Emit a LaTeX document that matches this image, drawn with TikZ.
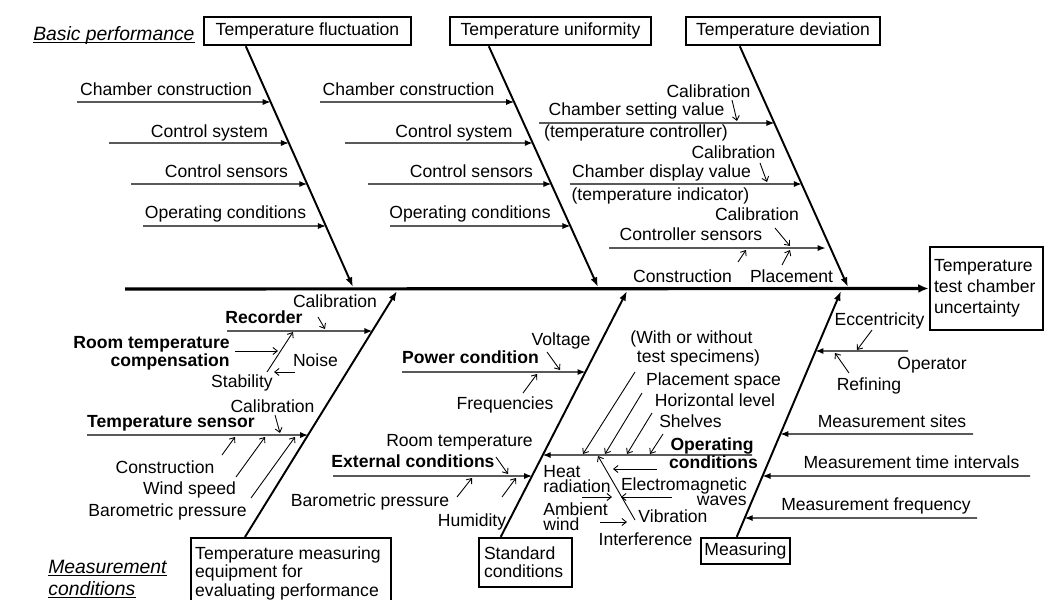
\documentclass[tikz,border=0pt]{standalone}
\usepackage{fontspec}
\setmainfont{Liberation Sans}
\usetikzlibrary{arrows.meta,calc}

\begin{document}
\begin{tikzpicture}[x=0.02cm, y=-0.02cm, font=\fontsize{10}{12}\selectfont,
	spine/.style={line width=1.8pt, -{Latex[length=6pt,width=5pt]}},
	bone/.style={line width=1.1pt, -{Latex[length=5.5pt,width=4pt]}},
	branch/.style={line width=0.7pt, -{Latex[length=4.5pt,width=3.5pt]}},
	twig/.style={line width=0.5pt, -{Straight Barb[length=2.5pt,width=4pt]}},
	cause/.style={draw, line width=1.4pt, inner sep=0pt, minimum height=0.56cm},
	lbl/.style={inner sep=0pt, anchor=base},
	key/.style={lbl, font=\fontsize{10}{12}\selectfont\bfseries},
	hdr/.style={inner sep=0pt, anchor=base west, font=\fontsize{11}{12}\selectfont\itshape}]

	\useasboundingbox (0,0) rectangle (1045,599);

	% effect and the six main causes
	\node[cause, text width=2.1cm, inner xsep=0.08cm, minimum height=1.66cm, align=flush left] (effect) at (986.5,288.5) {Temperature\\test chamber\\uncertainty};
	\node[cause, minimum width=4.14cm] (fluct) at (307.5,31) {Temperature fluctuation};
	\node[cause, minimum width=4.02cm] (unif) at (550.5,31) {Temperature uniformity};
	\node[cause, minimum width=3.88cm] (devi) at (783,31) {Temperature deviation};
	\node[cause, anchor=north west, text width=3.84cm, inner xsep=0.08cm, inner ysep=0.17cm, align=flush left, font=\fontsize{10}{10.5}\selectfont] (equip) at (190,537) {Temperature measuring\\equipment for\\evaluating performance};
	\node[cause, text width=1.66cm, inner xsep=0.1cm, minimum height=0.98cm, align=flush left, font=\fontsize{10}{10.2}\selectfont] (std) at (525.5,562.5) {Standard\\conditions};
	\node[cause, minimum width=1.78cm, minimum height=0.52cm] (meas) at (745.5,551) {Measuring};

	\node[hdr] (basic) at (33,40) {Basic performance};
	\node[hdr] (mcond1) at (48,573) {Measurement};
	\node[hdr] (mcond2) at (48,595) {conditions};
	\foreach \n in {basic,mcond1,mcond2}
		\draw[line width=0.6pt] ([yshift=-1.4pt]\n.base west) -- ([yshift=-1.4pt]\n.base east);

	% spine and bones
	\coordinate (tail) at (125,289);
	\draw[spine] (tail) -- (effect.west);

	\coordinate (fb) at ($(fluct.south west)+(43,0)$);  \coordinate (fj) at (353,287);
	\coordinate (ub) at ($(unif.south west)+(40,0)$);   \coordinate (uj) at (598,287);
	\coordinate (db) at ($(devi.south west)+(55,0)$);   \coordinate (dj) at (848,287);
	\coordinate (eb) at ($(equip.north west)+(55,0)$);  \coordinate (ej) at (397,291);
	\coordinate (sb) at ($(std.north west)+(23,0)$);    \coordinate (sj) at (627,291);
	\coordinate (mb) at ($(meas.north west)+(37,0)$);   \coordinate (mj) at (841,291);
	\foreach \b in {f,u,d,e,s,m}
		\draw[bone] (\b b) -- (\b j);

	% Temperature fluctuation
	\foreach \x/\y [count=\i] in {77/102,109/143,131/184,143/226}
		\draw[branch] (\x,\y) coordinate (fa\i) -- (intersection cs: first line={(fb)--(fj)}, second line={(\x,\y)--(0,\y)});
	\foreach \x/\y/\t [count=\i] in {166/95/Chamber construction,209.5/137/Control system,226.5/177/Control sensors,225.5/218/Operating conditions}
		\node[lbl] (fl\i) at (\x,\y) {\t};

	% Temperature uniformity
	\foreach \x/\y [count=\i] in {320/102,345/143,368/184,390/226}
		\draw[branch] (\x,\y) coordinate (ua\i) -- (intersection cs: first line={(ub)--(uj)}, second line={(\x,\y)--(0,\y)});
	\foreach \x/\y/\t [count=\i] in {408.5/95/Chamber construction,454/137/Control system,471.5/177/Control sensors,470/218/Operating conditions}
		\node[lbl] (ul\i) at (\x,\y) {\t};

	% Temperature deviation
	\foreach \x/\y [count=\i] in {539/123,570/184}
		\draw[branch] (\x,\y) coordinate (da\i) -- (intersection cs: first line={(db)--(dj)}, second line={(\x,\y)--(0,\y)});
	\draw[branch, shorten >=0.1cm] (609,248) coordinate (da3) -- (intersection cs: first line={(db)--(dj)}, second line={(609,248)--(0,248)});
	\node[lbl] (dcal1) at (708.5,97) {Calibration};
	\node[lbl] (dset) at (636.5,115) {Chamber setting value};
	\node[lbl] (dctl) at (636,137) {(temperature controller)};
	\node[lbl] (dcal2) at (733.5,158) {Calibration};
	\node[lbl] (ddisp) at (661.5,177) {Chamber display value};
	\node[lbl] (dind) at (660.5,200) {(temperature indicator)};
	\node[lbl] (dcal3) at (757,220) {Calibration};
	\node[lbl] (dsens) at (691,240) {Controller sensors};
	\node[lbl] (dcons) at (682.5,282) {Construction};
	\node[lbl] (dplac) at (791.5,282) {Placement};

	% Temperature measuring equipment
	\draw[branch] (227,331) coordinate (ea1) -- (intersection cs: first line={(eb)--(ej)}, second line={(227,331)--(0,331)});
	\draw[branch] (87,435) coordinate (ea2) -- (intersection cs: first line={(eb)--(ej)}, second line={(87,435)--(0,435)});
	\node[lbl] (ecal1) at (335,307) {Calibration};
	\node[key] (erec) at (264,323) {Recorder};
	\node[key, anchor=base east] (eroom1) at (230,348) {Room temperature};
	\node[key, anchor=base east] (eroom2) at (230,366) {compensation};
	\node[lbl] (enoise) at (315.5,366) {Noise};
	\node[lbl] (estab) at (242,387) {Stability};
	\node[lbl] (ecal2) at (272.5,412) {Calibration};
	\node[key] (esens) at (171,427) {Temperature sensor};
	\node[lbl] (econs) at (165,473) {Construction};
	\node[lbl] (ewind) at (189.5,494) {Wind speed};
	\node[lbl] (ebaro) at (167.5,516) {Barometric pressure};

	% Standard conditions
	\foreach \x/\y [count=\i] in {402/372,333/476,752/455}
		\draw[branch] (\x,\y) coordinate (sa\i) -- (intersection cs: first line={(sb)--(sj)}, second line={(\x,\y)--(0,\y)});
	\node[lbl] (svolt) at (561,345) {Voltage};
	\node[key] (spow) at (470.5,363) {Power condition};
	\node[lbl] (sfreq) at (505,409) {Frequencies};
	\node[lbl] (sroom) at (459.5,446) {Room temperature};
	\node[key] (sext) at (413,467) {External conditions};
	\node[lbl] (sbaro) at (370,506) {Barometric pressure};
	\node[lbl] (shum) at (472,526) {Humidity};
	\node[lbl] (swith1) at (691.5,343) {(With or without};
	\node[lbl] (swith2) at (698.5,362) {test specimens)};
	\node[lbl] (splsp) at (713.5,385) {Placement space};
	\node[lbl] (shor) at (715,406) {Horizontal level};
	\node[lbl] (sshelf) at (690.5,427) {Shelves};
	\node[key] (sop1) at (712,450) {Operating};
	\node[key] (sop2) at (713.5,468) {conditions};
	\node[lbl, anchor=base west] (sheat1) at (543,477) {Heat};
	\node[lbl, anchor=base west] (sheat2) at (543,492) {radiation};
	\node[lbl, anchor=base west] (samb1) at (543,515) {Ambient};
	\node[lbl, anchor=base west] (samb2) at (543,530) {wind};
	\node[lbl] (sem1) at (684,490) {Electromagnetic};
	\node[lbl, anchor=base east] (sem2) at (747,505) {waves};
	\node[lbl] (svib) at (673,522) {Vibration};
	\node[lbl] (sint) at (645.5,545) {Interference};

	% Measuring
	\foreach \x/\y [count=\i] in {908/351,973/434,1030/476,977/518}
		\draw[branch] (\x,\y) coordinate (ma\i) -- (intersection cs: first line={(mb)--(mj)}, second line={(\x,\y)--(0,\y)});
	\node[lbl] (mecc) at (879.5,325) {Eccentricity};
	\node[lbl] (mop) at (932,369) {Operator};
	\node[lbl] (mref) at (869,390) {Refining};
	\node[lbl] (msite) at (892,427) {Measurement sites};
	\node[lbl] (mtime) at (911.5,468) {Measurement time intervals};
	\node[lbl] (mfreq) at (876,510) {Measurement frequency};

	% small arrows
	\foreach \xa/\ya/\xb/\yb [count=\i] in {732/100/737/121, 760/163/767/182, 775/228/790/246, 738/262/746/250, 782/265/790/250,
		318/317/325/329, 235/351/278/351, 267/372/293/332, 295/372/274/372, 275/415/280/433, 222/455/235/437, 236/477/265/437, 251/498/295/437,
		547/352/560/370, 523/393/537/374, 496/457/508/474, 457/497/472/478, 502/497/516/478,
		635/372/583/454, 642/393/605/454, 652/413/627/454, 663/434/650/454, 635/520/598/456,
		657/469/613/469, 672/497/621/497, 582/497/612/497, 600/522/627/522,
		872/330/857/350, 849/373/835/353}
		\draw[twig] (\xa,\ya) coordinate (tw\i) -- (\xb,\yb) coordinate (th\i);

\end{tikzpicture}
\end{document}
